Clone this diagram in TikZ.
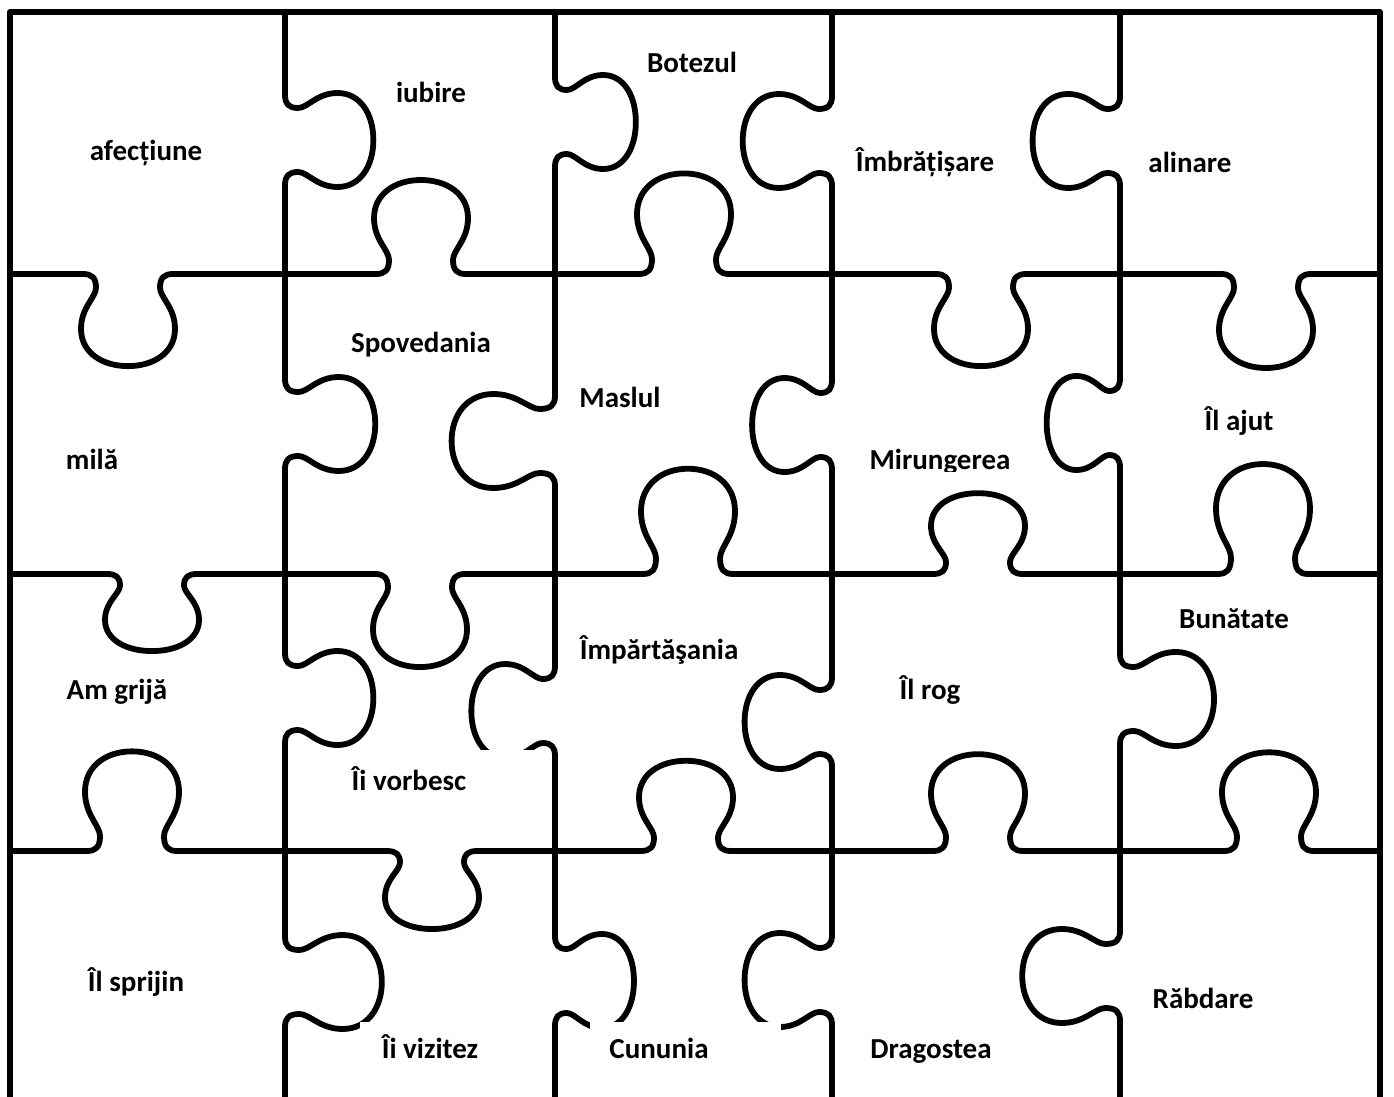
\documentclass[tikz,border=0pt]{standalone}
\usepackage{fontspec}
\setmainfont{Carlito}
\tikzset{
  pz/.style={line width=2.9pt, line cap=round, line join=round, draw=black},
  lab/.style={anchor=base, inner sep=0pt, font=\bfseries\fontsize{14.5}{17}\selectfont}
}
% horizontal edge: x0 x1 y centre depth-factor (+ down, - up)
\newcommand\htab[5]{%
 \draw[pz] (#1,#3) -- ({#4-45},#3)
 .. controls ({#4-36},#3) and ({#4-32},{#3+4*(#5)}) .. ({#4-32},{#3+14*(#5)})
 .. controls ({#4-32},{#3+24*(#5)}) and ({#4-47},{#3+34*(#5)}) .. ({#4-47},{#3+56*(#5)})
 .. controls ({#4-47},{#3+80*(#5)}) and ({#4-26},{#3+94*(#5)}) .. ({#4},{#3+94*(#5)})
 .. controls ({#4+26},{#3+94*(#5)}) and ({#4+47},{#3+80*(#5)}) .. ({#4+47},{#3+56*(#5)})
 .. controls ({#4+47},{#3+34*(#5)}) and ({#4+32},{#3+24*(#5)}) .. ({#4+32},{#3+14*(#5)})
 .. controls ({#4+32},{#3+4*(#5)}) and ({#4+36},#3) .. ({#4+45},#3)
 -- (#2,#3);}
% vertical edge: y0 y1 x centre depth-factor (+ right, - left)
\newcommand\vtab[5]{%
 \draw[pz] (#3,#1) -- (#3,{#4-45})
 .. controls (#3,{#4-36}) and ({#3+4*(#5)},{#4-32}) .. ({#3+14*(#5)},{#4-32})
 .. controls ({#3+24*(#5)},{#4-32}) and ({#3+34*(#5)},{#4-47}) .. ({#3+56*(#5)},{#4-47})
 .. controls ({#3+80*(#5)},{#4-47}) and ({#3+94*(#5)},{#4-26}) .. ({#3+94*(#5)},{#4})
 .. controls ({#3+94*(#5)},{#4+26}) and ({#3+80*(#5)},{#4+47}) .. ({#3+56*(#5)},{#4+47})
 .. controls ({#3+34*(#5)},{#4+47}) and ({#3+24*(#5)},{#4+32}) .. ({#3+14*(#5)},{#4+32})
 .. controls ({#3+4*(#5)},{#4+32}) and (#3,{#4+36}) .. (#3,{#4+45})
 -- (#3,#2);}
\begin{document}
\begin{tikzpicture}[x=0.5pt,y=-0.5pt]
\useasboundingbox (0,0) rectangle (1394,1097);
\fill[white] (0,0) rectangle (1394,1097);
\clip (0,0) rectangle (1394,1097);
% outer frame (no bottom edge)
\draw[pz] (10,1110) -- (10,12) -- (1380,12) -- (1380,1110);
\draw[line width=3.2pt] (10,12) -- (1380,12);
% horizontal cuts
\htab{10}{285}{274}{128}{0.98}
\htab{285}{555}{274}{421}{-1.0}
\htab{555}{832}{274}{684}{-1.07}
\htab{832}{1120}{274}{981}{0.98}
\htab{1120}{1380}{274}{1266}{1.0}
\htab{10}{285}{574}{152}{0.82}
\htab{285}{555}{574}{420}{0.99}
\htab{555}{832}{574}{688}{-1.12}
\htab{832}{1120}{574}{978}{-0.86}
\htab{1120}{1380}{574}{1263}{-1.17}
\htab{10}{285}{851}{132}{-1.06}
\htab{285}{555}{851}{432}{0.83}
\htab{555}{832}{851}{686}{-0.96}
\htab{832}{1120}{851}{978}{-1.03}
\htab{1120}{1380}{851}{1269}{-1.05}
% vertical cuts
\vtab{12}{274}{285}{140}{0.94}
\vtab{274}{574}{285}{424}{0.96}
\vtab{574}{851}{285}{698}{0.94}
\vtab{851}{1110}{285}{982}{1.03}
\vtab{12}{274}{555}{122}{0.86}
\vtab{274}{574}{555}{441}{-1.1}
\vtab{574}{851}{555}{711}{-0.89}
\vtab{851}{1110}{555}{981}{0.84}
\vtab{12}{274}{832}{141}{-0.95}
\vtab{274}{574}{832}{425}{-0.85}
\vtab{574}{851}{832}{722}{-0.93}
\vtab{851}{1110}{832}{980}{-0.93}
\vtab{12}{274}{1120}{141}{-0.93}
\vtab{274}{574}{1120}{423}{-0.78}
\vtab{574}{851}{1120}{699}{1.0}
\vtab{851}{1110}{1120}{976}{-1.04}
% white text boxes that hide parts of the cuts
\fill[white] (360,1022) rectangle (550,1100);
\fill[white] (590,1022) rectangle (781,1100);
\fill[white] (840,1022) rectangle (1040,1100);
\fill[white] (340,750) rectangle (540,770);
% labels
\node[lab] (t01) at (146,161) {afecțiune};
\node[lab] (t02) at (431,103) {iubire};
\node[lab] (t03) at (692,73) {Botezul};
\node[lab] (t04) at (925,172) {Îmbrățișare};
\node[lab] (t05) at (1190,173) {alinare};
\node[lab] (t06) at (421,352) {Spovedania};
\node[lab] (t07) at (620,407) {Maslul};
\node[lab] (t08) at (92,469) {milă};
\begin{scope}
\clip (840,420) rectangle (1045,471);
\node[lab] (t09) at (940,469) {Mirungerea};
\end{scope}
\node[lab] (t10) at (1239,430) {Îl ajut};
\node[lab] (t11) at (1234,628) {Bunătate};
\node[lab] (t12) at (659,659) {Împărtăşania};
\node[lab] (t13) at (117,699) {Am grijă};
\node[lab] (t14) at (930,699) {Îl rog};
\node[lab] (t15) at (409,790) {Îi vorbesc};
\node[lab] (t16) at (136,991) {Îl sprijin};
\node[lab] (t17) at (430,1058) {Îi vizitez};
\node[lab] (t18) at (659,1058) {Cununia};
\node[lab] (t19) at (931,1058) {Dragostea};
\node[lab] (t20) at (1203,1008) {Răbdare};
\end{tikzpicture}
\end{document}
